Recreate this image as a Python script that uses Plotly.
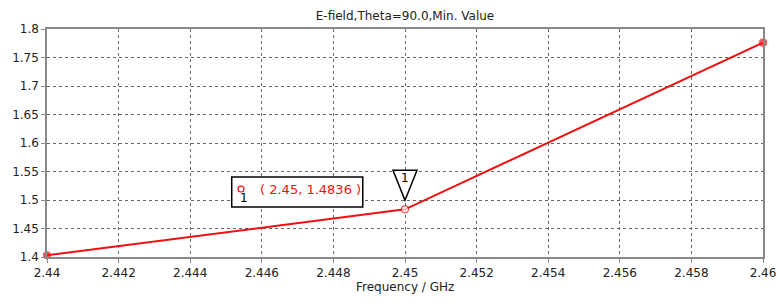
import plotly.graph_objects as go

freq = [2.44, 2.45, 2.46]
efield = [1.403, 1.4836, 1.776]
x_ticks = [2.44, 2.442, 2.444, 2.446, 2.448, 2.45, 2.452, 2.454, 2.456, 2.458, 2.46]
y_ticks = [1.4, 1.45, 1.5, 1.55, 1.6, 1.65, 1.7, 1.75, 1.8]
marker_idx = 1

RED = "#ee1111"
FONT = "DejaVu Sans"
TXT = "#222222"

fig = go.Figure()
fig.add_trace(go.Scatter(
    x=freq, y=efield, mode="lines+markers",
    line=dict(color=RED, width=2),
    marker=dict(size=[7, 7, 7], color=[RED, "white", RED],
                line=dict(color=RED, width=1.2)),
    cliponaxis=False, showlegend=False, hoverinfo="x+y"))

axis_common = dict(showline=True, mirror=True, linecolor="#888888", linewidth=1.5,
                   showgrid=True, gridcolor="#666666", griddash="dot", gridwidth=1,
                   ticks="outside", ticklen=4, tickcolor="#888888",
                   tickfont=dict(family=FONT, size=12, color=TXT),
                   zeroline=False, automargin=False)

fig.update_xaxes(range=[x_ticks[0], x_ticks[-1]], tickvals=x_ticks,
                 ticktext=[f"{v:g}" for v in x_ticks], **axis_common)
fig.update_yaxes(range=[y_ticks[0], y_ticks[-1]], tickvals=y_ticks,
                 ticktext=[f"{v:g}" for v in y_ticks], **axis_common)

mx, my = freq[marker_idx], efield[marker_idx]

# marker triangle above the point
fig.add_shape(type="path", xref="x", yref="y", xsizemode="pixel", ysizemode="pixel",
              xanchor=mx, yanchor=my, path="M 0,9 L -12,39 L 12,39 Z",
              line=dict(color="black", width=1.5), fillcolor="white")
fig.add_annotation(x=mx, y=my, xref="x", yref="y", yshift=31, text="1", showarrow=False,
                   xanchor="center", yanchor="middle",
                   font=dict(family=FONT, size=12, color="black"))

# marker info box
fig.add_shape(type="rect", xref="paper", yref="paper", x0=0.258, x1=0.441, y0=0.219, y1=0.351,
              line=dict(color="black", width=1.5), fillcolor="white")
fig.add_shape(type="circle", xref="paper", yref="paper", x0=0.2667, x1=0.2751, y0=0.285, y1=0.311,
              line=dict(color=RED, width=1.2), fillcolor="white")
fig.add_annotation(x=0.2751, y=0.258, xref="paper", yref="paper", text="1", showarrow=False,
                   xanchor="center", yanchor="middle",
                   font=dict(family=FONT, size=12, color="black"))
fig.add_annotation(x=0.2947, y=0.294, xref="paper", yref="paper", xanchor="left",
                   yanchor="middle", text=f"( {mx}, {my} )", showarrow=False,
                   font=dict(family=FONT, size=13, color=RED))

# axis title
fig.add_annotation(x=0.5, y=-30 / 228, xref="paper", yref="paper", xanchor="center",
                   yanchor="middle", text="Frequency / GHz", showarrow=False,
                   font=dict(family=FONT, size=12, color=TXT))

fig.update_layout(
    width=778, height=305,
    margin=dict(l=47, r=15, t=29, b=48),
    paper_bgcolor="white", plot_bgcolor="white",
    title=dict(text="E-field,Theta=90.0,Min. Value", x=0.5, xref="paper", xanchor="center",
               y=1 - 16 / 305, yanchor="middle", automargin=False,
               font=dict(family=FONT, size=12, color=TXT)),
)

fig.write_html("out.html", config={"displayModeBar": False},
               post_script="document.body.style.margin='0';document.body.style.overflow='hidden';")
